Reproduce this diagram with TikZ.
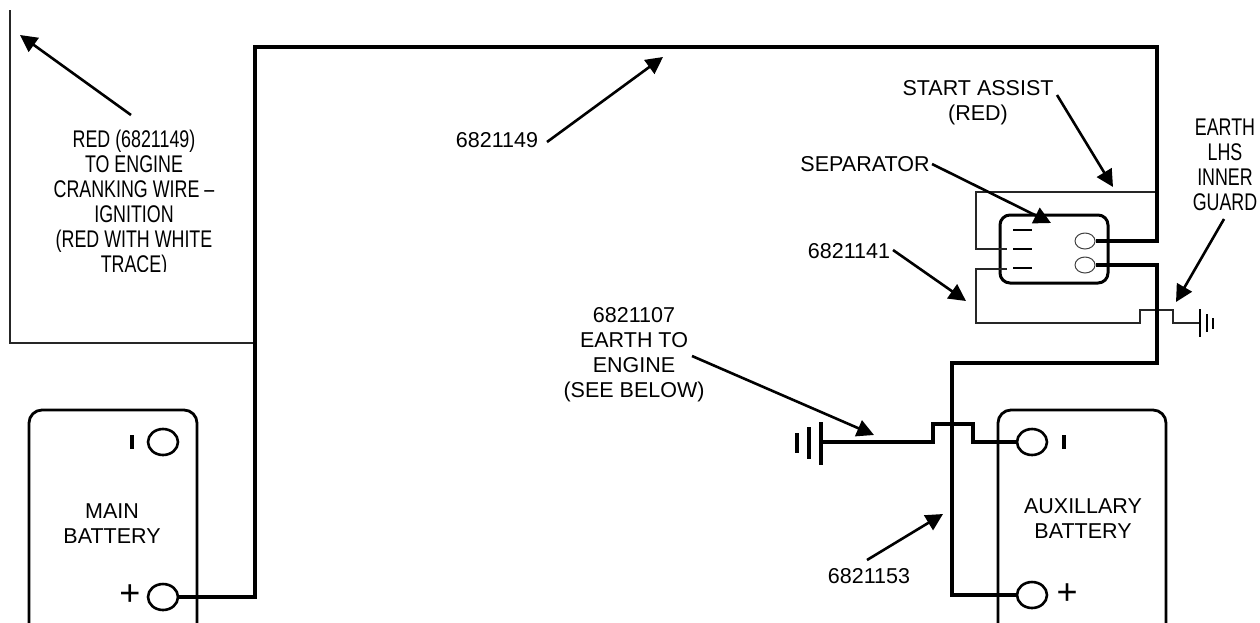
\documentclass[tikz,border=0pt]{standalone}
\usepackage{fontspec}
\setmainfont{Liberation Sans}
\usetikzlibrary{arrows.meta,shapes.geometric}
\tikzset{
 thickw/.style={line width=4.8pt,line join=miter},
 lowerw/.style={line width=4.2pt,line join=miter},
 medw/.style={line width=3.7pt,line join=miter},
 thinw/.style={line width=1.3pt,draw=black!85},
 batt/.style={line width=2.8pt,rounded corners=13pt},
 term/.style={draw,ellipse,line width=2.6pt,minimum width=30pt,minimum height=26pt,inner sep=0pt},
 sterm/.style={draw=black!75,ellipse,line width=1pt,minimum width=20pt,minimum height=16pt,inner sep=0pt},
 pointer/.style={line width=2.6pt,-{Triangle[length=17pt,width=17pt]}},
 lab/.style={font=\fontsize{21.5}{25}\selectfont,align=center,inner sep=0pt},
 narrow/.style={font=\fontsize{21.5}{22.3}\selectfont,align=center,inner sep=0pt,xscale=.83,yscale=1.12},
 sym/.style={font=\fontsize{36}{36}\selectfont,inner sep=0pt},
}
\begin{document}
\begin{tikzpicture}[x=1pt,y=-1pt]
\useasboundingbox (0,0) rectangle (1260,622);
% batteries (clipped by the page)
\begin{scope}
\clip (0,0) rectangle (1260,622);
\draw[batt] (29,640) -- (29,410) -- (197,410) -- (197,640);
\draw[batt] (998,640) -- (998,410) -- (1166,410) -- (1166,640);
\end{scope}
% terminals
\node[term] (mm) at (163,442) {};
\node[term] (mp) at (163,597) {};
\node[term] (am) at (1032,442) {};
\node[term] (ap) at (1032,595) {};
\draw[line width=3.4pt] (132,435) -- (132,449);
\draw[line width=3.4pt] (1064,435) -- (1064,449);
\node[sym] at (130,595) {+};
\node[sym] at (1067,594) {+};
% labels
\node[lab] (mainl) at (112,523.5) {MAIN\\BATTERY};
\node[lab] (auxl) at (1083,519) {AUXILLARY\\BATTERY};
% separator
\draw[line width=3pt,rounded corners=10pt] (1000,215) rectangle (1108,283);
\coordinate (d1) at (1013,230); \coordinate (d2) at (1013,249); \coordinate (d3) at (1013,268);
\draw[line width=2.6pt] (d1) -- ++(19,0);
\draw[line width=2.6pt] (d2) -- ++(19,0);
\draw[line width=2.6pt] (d3) -- ++(19,0);
\node[sterm] (s1) at (1085,241) {};
\node[sterm] (s2) at (1085,265) {};
% thin wires
\coordinate (tl) at (10,10);
\draw[thinw] (tl) -- (10,343) -- (255,343);
\draw[thinw] (1157,192) -- (976,192) -- (976,249) -- (1007,249);
\draw[thinw] (1007,269) -- (976,269) -- (976,323) -- (1140,323) -- (1140,310) -- (1173,310) -- (1173,323) -- (1200,323);
% small earth
\draw[line width=1.4pt] (1200,309) -- (1200,337);
\draw[line width=1.4pt] (1207,314) -- (1207,332);
\draw[line width=1.4pt] (1213,318) -- (1213,329);
% thick wires
\draw[thickw] (s1.east) -- (1157,241) -- (1157,47) -- (255,47) -- (255,597) -- (mp.east);
\draw[lowerw] (s2.east) -- (1157,265) -- (1157,363) -- (952,363) -- (952,595) -- (ap.west);
\draw[medw] (822,442) -- (933,442) -- (933,424) -- (973,424) -- (973,442) -- (am.west);
% big earth
\draw[line width=4.4pt] (821,422) -- (821,465);
\draw[line width=4.4pt] (809,427) -- (809,459);
\draw[line width=4.4pt] (797,433) -- (797,453);
% texts
\begin{scope}
\clip (0,0) rectangle (300,271);
\node[narrow] (redl) at (134,203.5) {RED (6821149)\\TO ENGINE\\CRANKING WIRE --\\IGNITION\\(RED WITH WHITE\\TRACE)};
\end{scope}
\node[lab] (w1) at (497,140) {6821149};
\node[lab] (w2) at (978,103) {START ASSIST\\(RED)};
\node[lab] (w3) at (865,164) {SEPARATOR};
\node[lab] (w4) at (849,251) {6821141};
\node[lab] (w5) at (634,355) {6821107\\EARTH TO\\ENGINE\\(SEE BELOW)};
\node[lab] (w6) at (869,576) {6821153};
\node[narrow] (w7) at (1225,165) {EARTH\\LHS\\INNER\\GUARD};
% pointers
\coordinate (t1) at (20,35); \coordinate (t2) at (663,57); \coordinate (t3) at (1113,187);
\coordinate (t4) at (1051,223); \coordinate (t5) at (966,301); \coordinate (t6) at (1176,302);
\coordinate (t7) at (874,435); \coordinate (t8) at (943,514);
\draw[pointer] (131,115) -- (t1);
\draw[pointer] (547,142) -- (t2);
\draw[pointer] (1057,95) -- (t3);
\draw[pointer] (932,164) -- (t4);
\draw[pointer] (893,250) -- (t5);
\draw[pointer] (1224,219) -- (t6);
\draw[pointer] (692,356) -- (t7);
\draw[pointer] (867,560) -- (t8);
\end{tikzpicture}
\end{document}
